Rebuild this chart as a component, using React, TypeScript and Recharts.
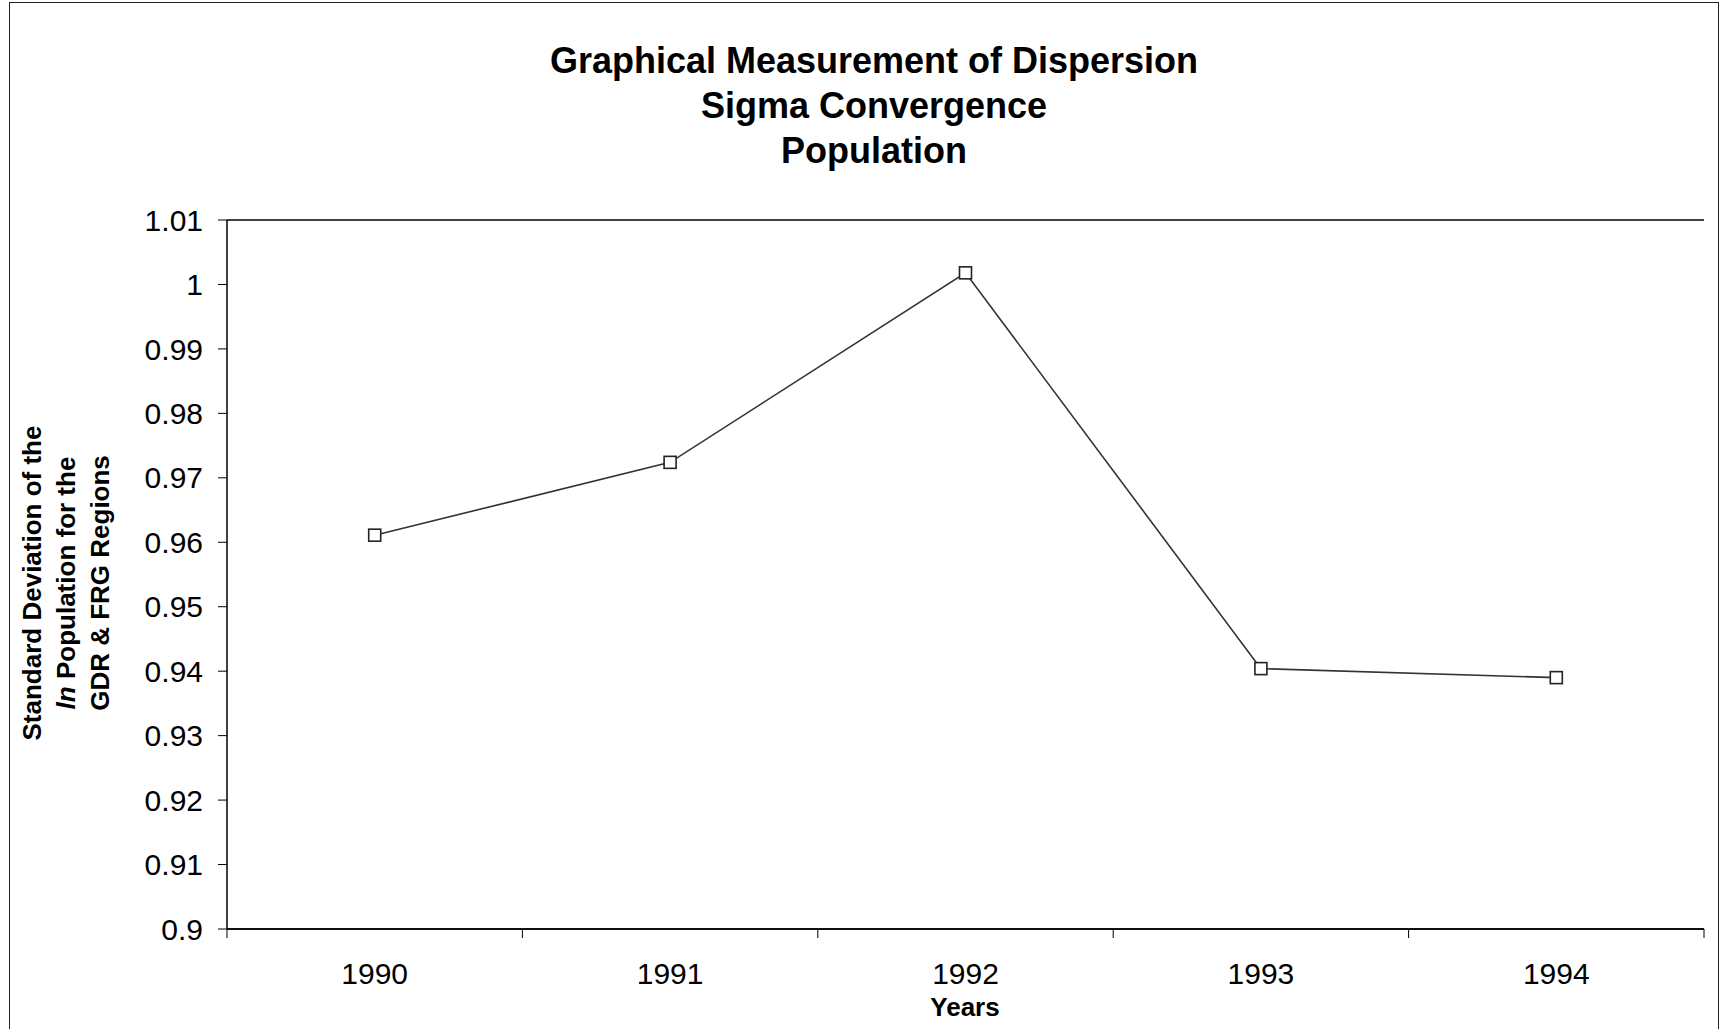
import { LineChart, Line, XAxis, YAxis, CartesianGrid } from 'recharts';

const YEARS = ['1990', '1991', '1992', '1993', '1994'];
const SIGMA = [0.9611, 0.9724, 1.0018, 0.9404, 0.939];
const Y_TICKS = [0.9, 0.91, 0.92, 0.93, 0.94, 0.95, 0.96, 0.97, 0.98, 0.99, 1.0, 1.01];
const TITLE_LINES = ['Graphical Measurement of Dispersion', 'Sigma Convergence', 'Population'];

const W = 1720;
const H = 1029;
const PLOT_LEFT = 227;
const PLOT_RIGHT = 1704;
const HALF_BAND = (PLOT_RIGHT - PLOT_LEFT) / YEARS.length / 2;
const FONT = '"Liberation Sans", Arial, sans-serif';

const data = YEARS.map((year, i) => ({ year, value: SIGMA[i] }));

function SquareDot(props: any) {
  const { cx, cy } = props;
  if (cx == null || cy == null) return null;
  return <rect x={cx - 6} y={cy - 6} width={12} height={12} fill="#fff" stroke="#222" strokeWidth={1.6} />;
}

function YearTick(props: any) {
  const { x, y, payload, index } = props;
  return (
    <g>
      <line x1={x - HALF_BAND} x2={x - HALF_BAND} y1={y} y2={y + 9} stroke="#000" />
      {index === YEARS.length - 1 && <line x1={x + HALF_BAND} x2={x + HALF_BAND} y1={y} y2={y + 9} stroke="#000" />}
      <text x={x} y={y + 44} textAnchor="middle" dominantBaseline="central" fontSize={30} fontFamily={FONT} fill="#000">
        {payload.value}
      </text>
    </g>
  );
}

export default function App() {
  return (
    <div style={{ position: 'absolute', left: 0, top: 0, width: W, height: H, background: '#fff', overflow: 'hidden', fontFamily: FONT }}>
      <div style={{ position: 'absolute', left: 9, top: 2, width: 1708, height: 1040, border: '1px solid #222' }} />
      <div style={{ position: 'absolute', left: 374, top: 38, width: 1000, textAlign: 'center', fontWeight: 'bold', fontSize: 36, lineHeight: '45px', color: '#000' }}>
        {TITLE_LINES.map(t => <div key={t}>{t}</div>)}
      </div>
      <div style={{
        position: 'absolute', left: 66 - 250, top: 583 - 51, width: 500, height: 102,
        transform: 'rotate(-90deg)', textAlign: 'center', fontWeight: 'bold', fontSize: 26, lineHeight: '34px', color: '#000',
      }}>
        <div>Standard Deviation of the</div>
        <div><i>ln</i> Population for the</div>
        <div>GDR &amp; FRG Regions</div>
      </div>
      <div style={{ position: 'absolute', left: 865, top: 990, width: 200, textAlign: 'center', fontWeight: 'bold', fontSize: 26, lineHeight: '34px', color: '#000' }}>
        Years
      </div>
      <div style={{ position: 'absolute', left: 0, top: 0 }}>
        <LineChart width={W} height={H} data={data} margin={{ top: 220, right: 16, bottom: 40, left: 137 }}>
          <CartesianGrid vertical={false} stroke="#000" strokeWidth={1.3} />
          <XAxis dataKey="year" height={60} padding={{ left: HALF_BAND, right: HALF_BAND }}
            axisLine={{ stroke: '#000', strokeWidth: 1.5 }} tickLine={false} tickSize={0} tickMargin={0}
            tick={<YearTick />} interval={0} />
          <YAxis yAxisId="left" width={90} domain={[0.9, 1.01]} ticks={Y_TICKS} interval={0}
            tickFormatter={(v: number) => String(Number(v.toFixed(2)))}
            axisLine={{ stroke: '#000', strokeWidth: 1.5 }} tickLine={{ stroke: '#000' }} tickSize={9} tickMargin={15}
            tick={{ fontSize: 30, fill: '#000', fontFamily: FONT }} />
          <YAxis yAxisId="right" orientation="right" width={0} domain={[0.9, 1.01]} tick={false} tickLine={false}
            axisLine={{ stroke: '#555', strokeDasharray: '3 4' }} />
          <Line yAxisId="left" type="linear" dataKey="value" stroke="#333" strokeWidth={1.6}
            dot={<SquareDot />} activeDot={false} isAnimationActive={false} />
        </LineChart>
      </div>
    </div>
  );
}
